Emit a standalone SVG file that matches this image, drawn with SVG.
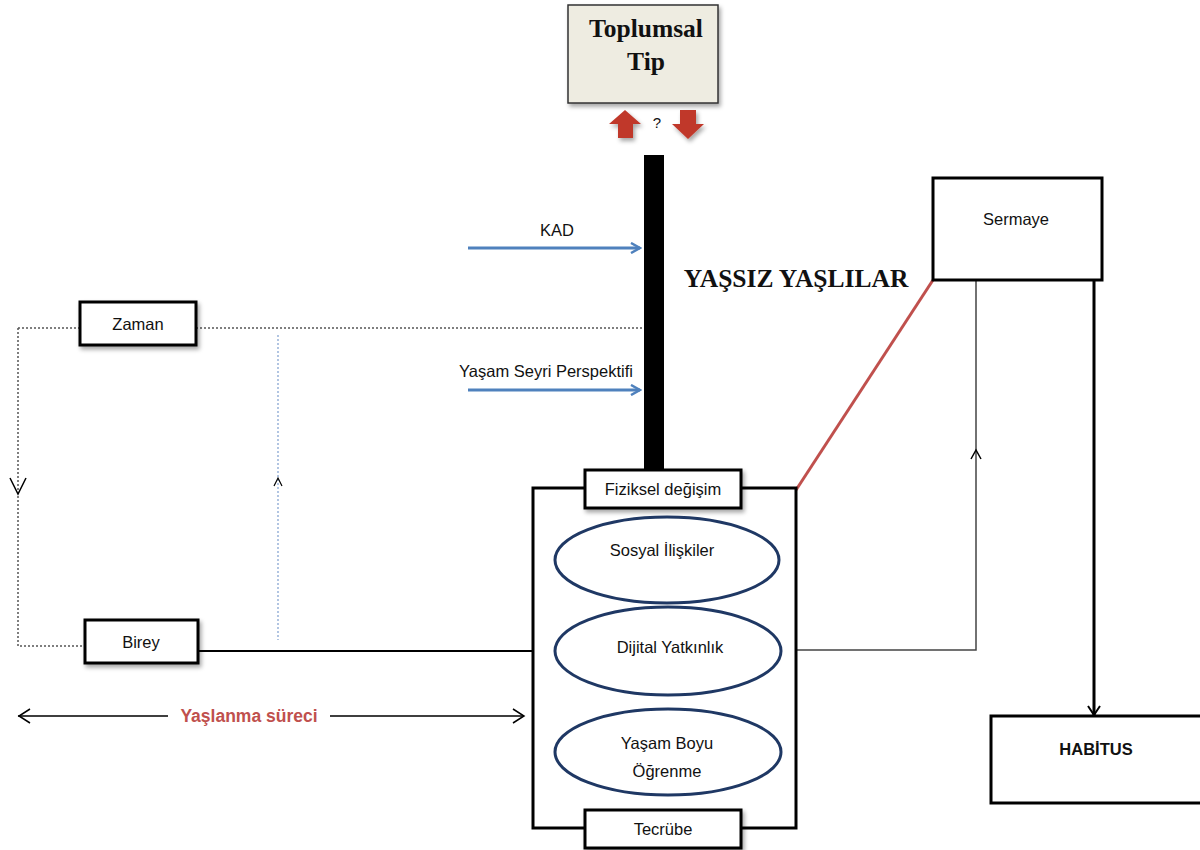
<svg xmlns="http://www.w3.org/2000/svg" width="1200" height="850" viewBox="0 0 1200 850">
<style>
.t{font-family:"Liberation Sans",Arial,sans-serif;font-size:16.5px;fill:#111;text-anchor:middle}
.tb{font-family:"Liberation Serif","Times New Roman",serif;font-weight:bold;fill:#111;text-anchor:middle}
.box{fill:#fff;stroke:#000;stroke-width:3}
.ell{fill:#fff;stroke:#1F3864;stroke-width:3}
.dot{fill:none;stroke:#555;stroke-width:1.5;stroke-dasharray:2 2}
.blue{fill:none;stroke:#4F81BD;stroke-width:3}
.thin{fill:none;stroke:#000;stroke-width:2}
</style>
<defs>
<filter id="sh" x="-10%" y="-10%" width="130%" height="140%"><feDropShadow dx="2" dy="3" stdDeviation="2" flood-color="#000" flood-opacity="0.35"/></filter>
<marker id="ab" markerWidth="12" markerHeight="12" refX="10" refY="6" orient="auto" markerUnits="userSpaceOnUse"><path d="M1,1 L10,6 L1,11" fill="none" stroke="#4F81BD" stroke-width="2.5"/></marker>
</defs>
<rect width="1200" height="850" fill="#fff"/>

<g id="connectors">
<path class="blue" d="M468,248 H640" marker-end="url(#ab)"/>
<path class="blue" d="M468,390 H640" marker-end="url(#ab)"/>
<path class="dot" d="M18,328 H80 M196,328 H644"/>
<path class="dot" d="M18,328 V646 H85"/>
<path d="M10,478 L18,494 L26,478" fill="none" stroke="#000" stroke-width="1.5"/>
<path d="M278,335 V640" fill="none" stroke="#7F9FCF" stroke-width="1.2" stroke-dasharray="2 2"/>
<path d="M274,486 L278,478 L282,486" fill="none" stroke="#000" stroke-width="1.2"/>
<path class="thin" d="M198,651 H533"/>
<path d="M18,716 H168 M330,716 H524" fill="none" stroke="#000" stroke-width="1.5"/>
<path d="M30,709 L19,716 L30,723 M513,709 L524,716 L513,723" fill="none" stroke="#000" stroke-width="1.5"/>
<path d="M796,490 L933,280" stroke="#C0504D" stroke-width="3" fill="none"/>
<path d="M976,280 V650 H796" fill="none" stroke="#444" stroke-width="1.5"/>
<path d="M971,459 L976,450 L981,459" fill="none" stroke="#000" stroke-width="1.5"/>
<path d="M1094,280 V715" fill="none" stroke="#000" stroke-width="3"/>
<path d="M1088,706 L1094,715 L1100,706" fill="none" stroke="#000" stroke-width="2"/>
<rect x="644" y="155" width="20" height="316" fill="#000"/>
</g>

<g id="toplumsal-tip">
<rect x="568" y="5" width="150" height="98" fill="#EEECE1" stroke="#333" stroke-width="1.5" filter="url(#sh)"/>
<text class="tb" x="646" y="37" font-size="25.5">Toplumsal</text>
<text class="tb" x="646" y="70" font-size="25.5">Tip</text>
</g>

<g id="red-arrows">
<path d="M618,138 H633 V124 H641 L625,110 L609,124 H618 Z" fill="#C0392B" filter="url(#sh)"/>
<text x="657" y="128" font-family="Liberation Sans,Arial,sans-serif" font-size="15" fill="#111" text-anchor="middle">?</text>
<path d="M680,110 H696 V124 H704 L688,139 L672,124 H680 Z" fill="#C0392B" filter="url(#sh)"/>
</g>

<g id="labels">
<text class="t" x="557" y="236">KAD</text>
<text class="t" x="546" y="377">Yaşam Seyri Perspektifi</text>
<text class="tb" x="796" y="287" font-size="25.5">YAŞSIZ YAŞLILAR</text>
<text x="249" y="722" font-family="Liberation Sans,Arial,sans-serif" font-weight="bold" font-size="17.5" fill="#C0504D" text-anchor="middle">Yaşlanma süreci</text>
</g>

<g id="zaman">
<rect class="box" x="80" y="302" width="116" height="43" filter="url(#sh)"/>
<text class="t" x="138" y="330">Zaman</text>
</g>

<g id="birey">
<rect class="box" x="85" y="620" width="113" height="43" filter="url(#sh)"/>
<text class="t" x="141" y="648">Birey</text>
</g>

<g id="container">
<rect x="533" y="488" width="263" height="340" fill="none" stroke="#000" stroke-width="3"/>
</g>

<g id="fiziksel-degisim">
<rect class="box" x="585" y="470" width="156" height="38" filter="url(#sh)"/>
<text class="t" x="663" y="495">Fiziksel değişim</text>
</g>

<g id="sosyal-iliskiler">
<ellipse class="ell" cx="667" cy="560" rx="112" ry="43"/>
<text class="t" x="662" y="556">Sosyal İlişkiler</text>
</g>

<g id="dijital-yatkinlik">
<ellipse class="ell" cx="668" cy="651" rx="113" ry="44"/>
<text class="t" x="670" y="653">Dijital Yatkınlık</text>
</g>

<g id="yasam-boyu-ogrenme">
<ellipse class="ell" cx="668" cy="752" rx="113" ry="43"/>
<text class="t" x="667" y="749">Yaşam Boyu</text>
<text class="t" x="667" y="777">Öğrenme</text>
</g>

<g id="tecrube">
<rect class="box" x="585" y="810" width="156" height="38" filter="url(#sh)"/>
<text class="t" x="663" y="835">Tecrübe</text>
</g>

<g id="sermaye">
<rect class="box" x="933" y="178" width="169" height="102"/>
<text class="t" x="1016" y="225">Sermaye</text>
</g>

<g id="habitus">
<rect class="box" x="991" y="716" width="215" height="87"/>
<text class="t" x="1096" y="755" font-weight="bold">HABİTUS</text>
</g>
</svg>
